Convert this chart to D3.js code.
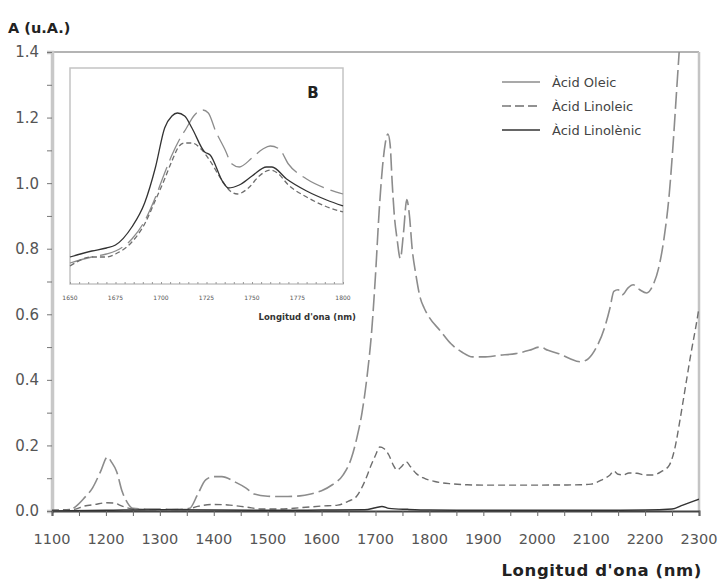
<!DOCTYPE html>
<html>
<head>
<meta charset="utf-8">
<script src="https://cdn.jsdelivr.net/npm/d3@7"></script>
<style>
  body { margin: 0; background: #fff; }
  text { font-family: "DejaVu Sans", Verdana, sans-serif; }
</style>
</head>
<body>
<script>
// main spectra: [wavelength nm, absorbance u.A.]
const oleic = [
  [1100, 0.0], [1130, 0.002], [1145, 0.015], [1160, 0.04], [1175, 0.07], [1190, 0.12],
  [1203, 0.165], [1210, 0.15], [1220, 0.12], [1230, 0.06], [1240, 0.025], [1250, 0.008],
  [1270, 0.006], [1300, 0.006], [1330, 0.005], [1355, 0.008], [1370, 0.05], [1385, 0.095],
  [1400, 0.105], [1415, 0.105], [1440, 0.088], [1460, 0.07], [1475, 0.052], [1500, 0.045],
  [1530, 0.044], [1560, 0.046], [1580, 0.052], [1600, 0.062], [1620, 0.08], [1640, 0.11],
  [1655, 0.16], [1665, 0.22], [1675, 0.3], [1685, 0.42], [1693, 0.55], [1700, 0.72],
  [1707, 0.92], [1713, 1.05], [1718, 1.12], [1723, 1.15], [1727, 1.12], [1731, 1.0],
  [1735, 0.9], [1740, 0.83], [1746, 0.77], [1752, 0.85], [1758, 0.95], [1763, 0.9],
  [1768, 0.8], [1775, 0.72], [1783, 0.65], [1790, 0.62], [1800, 0.59], [1820, 0.55],
  [1840, 0.51], [1860, 0.485], [1880, 0.47], [1900, 0.47], [1930, 0.475], [1960, 0.48],
  [1985, 0.49], [2005, 0.5], [2020, 0.49], [2040, 0.48], [2060, 0.465], [2080, 0.455],
  [2095, 0.465], [2110, 0.5], [2125, 0.56], [2135, 0.62], [2142, 0.67], [2150, 0.675],
  [2158, 0.66], [2168, 0.68], [2178, 0.69], [2190, 0.675], [2203, 0.665], [2215, 0.69],
  [2225, 0.74], [2235, 0.83], [2245, 0.97], [2252, 1.12], [2258, 1.27], [2264, 1.42]
];

const linoleic = [
  [1100, 0.003], [1140, 0.005], [1160, 0.015], [1180, 0.02], [1200, 0.025], [1215, 0.024],
  [1230, 0.015], [1250, 0.006], [1300, 0.004], [1350, 0.005], [1370, 0.014], [1400, 0.02],
  [1430, 0.018], [1460, 0.012], [1490, 0.006], [1520, 0.006], [1560, 0.01], [1600, 0.015],
  [1630, 0.018], [1650, 0.03], [1665, 0.045], [1680, 0.09], [1692, 0.14], [1700, 0.17],
  [1708, 0.195], [1716, 0.19], [1725, 0.17], [1733, 0.14], [1740, 0.125], [1748, 0.135],
  [1757, 0.15], [1765, 0.135], [1775, 0.115], [1790, 0.1], [1810, 0.09], [1840, 0.083],
  [1870, 0.08], [1900, 0.079], [2000, 0.079], [2080, 0.08], [2100, 0.082], [2120, 0.095],
  [2135, 0.11], [2142, 0.122], [2150, 0.112], [2160, 0.11], [2170, 0.116], [2185, 0.115],
  [2200, 0.11], [2215, 0.11], [2230, 0.12], [2245, 0.14], [2255, 0.19], [2265, 0.28],
  [2275, 0.38], [2285, 0.48], [2295, 0.57], [2300, 0.62]
];

const linolenic = [
  [1100, 0.0], [1200, 0.002], [1300, 0.004], [1400, 0.003], [1500, 0.002], [1600, 0.003],
  [1680, 0.004], [1700, 0.01], [1712, 0.014], [1725, 0.008], [1760, 0.005], [1800, 0.003],
  [2000, 0.002], [2200, 0.003], [2250, 0.006], [2270, 0.018], [2290, 0.03], [2300, 0.036]
];

// inset B (1650-1800 nm)
const insetOleic = [
  [1650, 0.67], [1662, 0.69], [1670, 0.70], [1675, 0.71], [1684, 0.75], [1691, 0.81],
  [1697, 0.89], [1702, 0.97], [1706, 1.03], [1710, 1.08], [1714, 1.12], [1718, 1.16],
  [1723, 1.18], [1726, 1.17], [1730, 1.11], [1735, 1.05], [1739, 1.0], [1743, 0.99],
  [1750, 1.02], [1756, 1.05], [1760, 1.06], [1765, 1.05], [1770, 1.0], [1780, 0.95],
  [1790, 0.92], [1800, 0.9]
];

const insetLinoleic = [
  [1650, 0.66], [1662, 0.69], [1670, 0.69], [1675, 0.70], [1684, 0.74], [1691, 0.80],
  [1697, 0.88], [1702, 0.95], [1706, 1.01], [1710, 1.06], [1713, 1.07], [1717, 1.07],
  [1722, 1.05], [1727, 1.01], [1733, 0.95], [1738, 0.91], [1742, 0.90], [1748, 0.92],
  [1754, 0.96], [1760, 0.98], [1764, 0.97], [1770, 0.93], [1780, 0.89], [1790, 0.86],
  [1800, 0.84]
];

const insetLinolenic = [
  [1650, 0.69], [1662, 0.71], [1670, 0.72], [1675, 0.73], [1684, 0.79], [1691, 0.87],
  [1697, 0.99], [1702, 1.12], [1706, 1.16], [1709, 1.17], [1713, 1.16], [1717, 1.12],
  [1724, 1.04], [1727, 1.03], [1734, 0.94], [1737, 0.92], [1743, 0.93], [1750, 0.96],
  [1758, 0.99], [1761, 0.99], [1769, 0.95], [1780, 0.91], [1791, 0.88], [1800, 0.86]
];

const xTicks = d3.range(1100, 2301, 100);
const xMinorTicks = d3.range(1100, 2301, 50);
const yTicks = [0, 0.2, 0.4, 0.6, 0.8, 1.0, 1.2, 1.4];
const yMinorTicks = d3.range(0, 1.41, 0.1);
const insetTicks = [1650, 1675, 1700, 1725, 1750, 1775, 1800];
const legendLabels = ["Àcid Oleic", "Àcid Linoleic", "Àcid Linolènic"];

const styles = [
  { color: "#8c8c8c", dash: "17,5", width: 1.6 },
  { color: "#6e6e6e", dash: "7,4", width: 1.4 },
  { color: "#333", dash: null, width: 1.5 }
];

let margin = { top: 52, right: 20, bottom: 69, left: 52 };

let svg = d3.select("body").append("svg")
    .attr("width", 719)
    .attr("height", 580);

let g = svg.append("g")
    .attr("transform", `translate(${margin.left},${margin.top})`);

let x = d3.scaleLinear().domain([1100, 2300]).range([0, 647]);
let y = d3.scaleLinear().domain([0, 1.4]).range([459, 0]);

g.append("clipPath")
    .attr("id", "plot-clip")
  .append("rect")
    .attr("width", 647)
    .attr("height", 459);

// frame
g.append("line")
    .attr("x1", 0).attr("x2", 647).attr("y1", 0).attr("y2", 0)
    .attr("stroke", "#b4b4b4").attr("stroke-width", 2);
g.append("line")
    .attr("x1", 647).attr("x2", 647).attr("y1", 0).attr("y2", 459)
    .attr("stroke", "#c4c4c4").attr("stroke-width", 2.5);

// y axis
let yAxis = g.append("g")
    .call(d3.axisLeft(y).tickValues(yMinorTicks).tickSize(5).tickFormat(""));
yAxis.select(".domain").attr("stroke", "#c8c8c8").attr("stroke-width", 3.5);
yAxis.selectAll(".tick line").attr("stroke", "#777");
g.append("g").selectAll("text")
    .data(yTicks)
  .enter().append("text")
    .attr("x", -13)
    .attr("y", d => y(d))
    .attr("dy", "0.36em")
    .attr("text-anchor", "end")
    .attr("font-size", 15)
    .attr("fill", "#555")
    .text(d => d.toFixed(1));

// x axis
let xAxis = g.append("g")
    .attr("transform", `translate(0,${459})`)
    .call(d3.axisBottom(x).tickValues(xMinorTicks).tickSize(5).tickFormat(""));
xAxis.select(".domain").attr("stroke", "#444").attr("stroke-width", 2);
xAxis.selectAll(".tick line").attr("stroke", "#666");
g.append("g").selectAll("text")
    .data(xTicks)
  .enter().append("text")
    .attr("x", d => x(d))
    .attr("y", 459 + 33)
    .attr("text-anchor", "middle")
    .attr("font-size", 14.5)
    .attr("fill", "#555")
    .text(d => d);

// spectra
let line = d3.line()
    .x(d => x(d[0]))
    .y(d => y(d[1]))
    .curve(d3.curveMonotoneX);

let plotArea = g.append("g").attr("clip-path", "url(#plot-clip)");
[oleic, linoleic, linolenic].forEach((series, i) => {
  plotArea.append("path")
      .datum(series)
      .attr("d", line)
      .attr("fill", "none")
      .attr("stroke", styles[i].color)
      .attr("stroke-width", styles[i].width)
      .attr("stroke-dasharray", styles[i].dash);
});

// legend
let legend = g.selectAll(".legend")
    .data(legendLabels)
  .enter().append("g")
    .attr("class", "legend")
    .attr("transform", (d, i) => `translate(450,${30 + i * 24})`);
legend.append("line")
    .attr("x1", 0).attr("x2", 38)
    .attr("stroke", (d, i) => styles[i].color)
    .attr("stroke-width", (d, i) => styles[i].width)
    .attr("stroke-dasharray", (d, i) => i == 1 ? "9,4" : null);
legend.append("text")
    .attr("x", 50)
    .attr("dy", "0.35em")
    .attr("font-size", 13)
    .attr("fill", "#444")
    .text(d => d);

// inset B
let inset = svg.append("g")
    .attr("transform", "translate(70,68)");
let ix = d3.scaleLinear().domain([1650, 1800]).range([0, 273]);
let iy = d3.scaleLinear().domain([0.6, 1.32]).range([216, 0]);

inset.append("rect")
    .attr("width", 273)
    .attr("height", 216)
    .attr("fill", "#fff")
    .attr("stroke", "#c4c4c4")
    .attr("stroke-width", 1.5);

let insetAxis = inset.append("g")
    .attr("transform", "translate(0,216)")
    .call(d3.axisTop(ix).tickValues(d3.range(1650, 1801, 5)).tickSize(2).tickFormat(""));
insetAxis.select(".domain").remove();
insetAxis.selectAll(".tick line").attr("stroke", "#999");

inset.append("g").selectAll("text")
    .data(insetTicks)
  .enter().append("text")
    .attr("x", d => ix(d))
    .attr("y", 232)
    .attr("text-anchor", "middle")
    .attr("font-size", 6)
    .attr("fill", "#555")
    .text(d => d);

let insetLine = d3.line()
    .x(d => ix(d[0]))
    .y(d => iy(d[1]))
    .curve(d3.curveMonotoneX);

[insetOleic, insetLinoleic, insetLinolenic].forEach((series, i) => {
  inset.append("path")
      .datum(series)
      .attr("d", insetLine)
      .attr("fill", "none")
      .attr("stroke", styles[i].color)
      .attr("stroke-width", 1.3)
      .attr("stroke-dasharray", i == 0 ? "24,7" : i == 1 ? "5,3" : null);
});

inset.append("text")
    .attr("x", 243)
    .attr("y", 30)
    .attr("text-anchor", "middle")
    .attr("font-size", 15)
    .attr("font-weight", "bold")
    .attr("fill", "#222")
    .text("B");

inset.append("text")
    .attr("x", 286)
    .attr("y", 252)
    .attr("text-anchor", "end")
    .attr("font-size", 8.5)
    .attr("font-weight", "bold")
    .attr("fill", "#333")
    .text("Longitud d'ona (nm)");

// titles
svg.append("text")
    .attr("x", 8)
    .attr("y", 33)
    .attr("font-size", 14.5)
    .attr("font-weight", "bold")
    .attr("fill", "#222")
    .text("A (u.A.)");

svg.append("text")
    .attr("x", 702)
    .attr("y", 576)
    .attr("text-anchor", "end")
    .attr("font-size", 16.5)
    .attr("font-weight", "bold")
    .attr("letter-spacing", 0.6)
    .attr("fill", "#222")
    .text("Longitud d'ona (nm)");
</script>
</body>
</html>
